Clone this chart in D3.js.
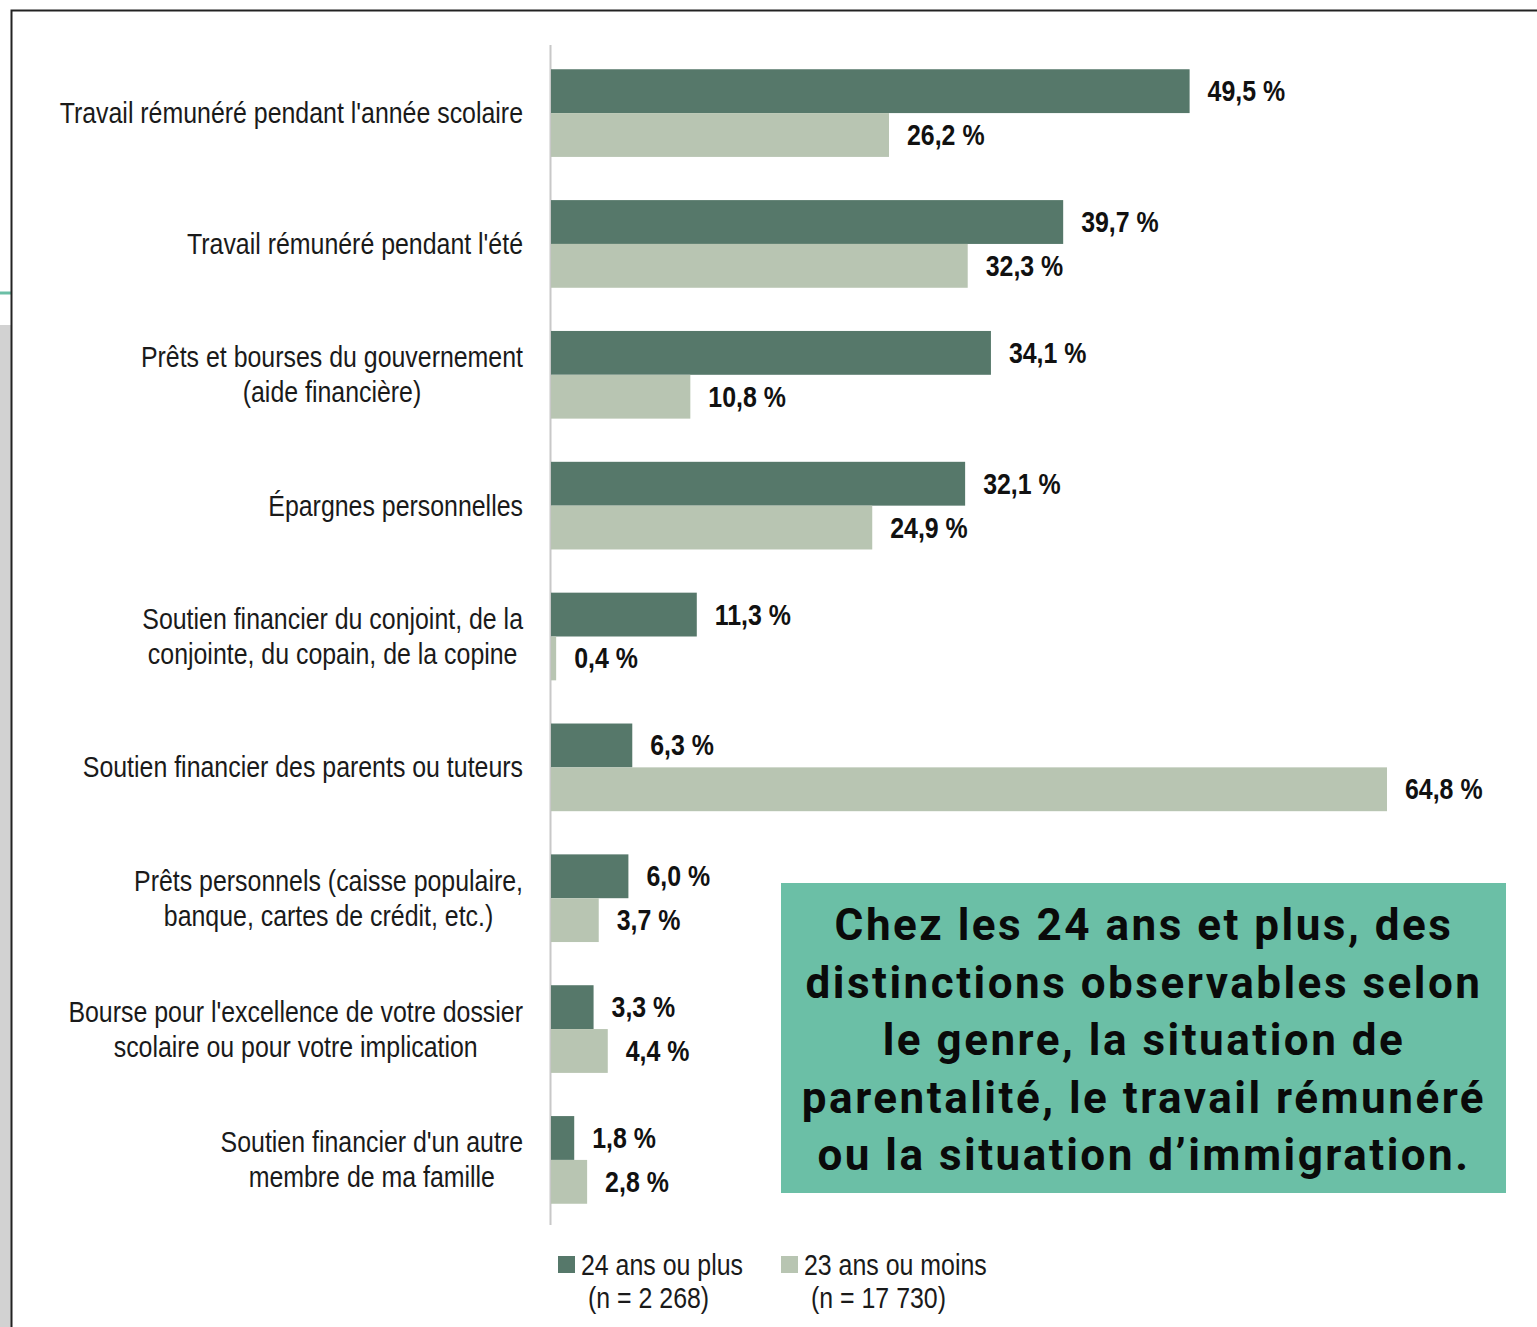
<!DOCTYPE html>
<html>
<head>
<meta charset="utf-8">
<script src="https://d3js.org/d3.v7.min.js"></script>
<style>
  body { margin: 0; background: #fff; }
  text { font-family: "Liberation Sans Narrow", "Arial Narrow", "Liberation Sans", sans-serif; }
</style>
</head>
<body>
<div id="chart"></div>
<script>

// categories (each label split in lines)
var categories = [
  ["Travail rémunéré pendant l'année scolaire"],
  ["Travail rémunéré pendant l'été"],
  ["Prêts et bourses du gouvernement", "(aide financière)"],
  ["Épargnes personnelles"],
  ["Soutien financier du conjoint, de la", "conjointe, du copain, de la copine"],
  ["Soutien financier des parents ou tuteurs"],
  ["Prêts personnels (caisse populaire,", "banque, cartes de crédit, etc.)"],
  ["Bourse pour l'excellence de votre dossier", "scolaire ou pour votre implication"],
  ["Soutien financier d'un autre", "membre de ma famille"]
]
var older = [49.5, 39.7, 34.1, 32.1, 11.3, 6.3, 6.0, 3.3, 1.8]   // 24 ans ou plus
var younger = [26.2, 32.3, 10.8, 24.9, 0.4, 64.8, 3.7, 4.4, 2.8] // 23 ans ou moins
var seriesNames = [["24 ans ou plus", "(n = 2 268)"], ["23 ans ou moins", "(n = 17 730)"]]
var calloutLines = [
  "Chez les 24 ans et plus, des",
  "distinctions observables selon",
  "le genre, la situation de",
  "parentalité, le travail rémunéré",
  "ou la situation d’immigration."
]

var width = 1537
var height = 1327
var colors = ["#56786A", "#B8C5B2"]

// no narrow font installed: squeeze the glyphs like Arial Narrow
function narrow(sel) {
  sel.each(function() {
    var w = this.getComputedTextLength()
    d3.select(this).attr("textLength", w * 0.83).attr("lengthAdjust", "spacingAndGlyphs")
  })
}

var svg = d3.select("#chart")
  .append("svg")
    .attr("width", width)
    .attr("height", height)

// left background strip + frame
svg.append("rect").attr("x", 0).attr("y", 325).attr("width", 11).attr("height", height - 325).attr("fill", "#d2d2d2")
svg.append("line").attr("x1", 0).attr("x2", 11).attr("y1", 293).attr("y2", 293)
  .attr("stroke", "#6BBFA6").attr("stroke-width", 3)
svg.append("path").attr("d", "M11.5," + height + "V10.5H" + width)
  .attr("fill", "none").attr("stroke", "#222").attr("stroke-width", 2)

// scales
var x = d3.scaleLinear().domain([0, 64.8]).range([551, 1387])
var y = d3.scaleBand().domain(d3.range(categories.length)).range([47, 1226]).paddingInner(0.33).paddingOuter(0.17)
var inner = d3.scaleBand().domain([0, 1]).range([0, y.bandwidth()])

// axis line
svg.append("line").attr("x1", 550.5).attr("x2", 550.5).attr("y1", 45).attr("y2", 1225)
  .attr("stroke", "#c8c8c8").attr("stroke-width", 2)

var series = [older, younger]
series.forEach(function(vals, s) {
  var g = svg.append("g")
  g.selectAll("rect")
    .data(vals)
    .enter()
    .append("rect")
      .attr("x", x(0))
      .attr("y", function(d, i) { return y(i) + inner(s) })
      .attr("width", function(d) { return x(d) - x(0) })
      .attr("height", inner.bandwidth())
      .attr("fill", colors[s])
  g.selectAll("text")
    .data(vals)
    .enter()
    .append("text")
      .attr("x", function(d) { return x(d) + 18 })
      .attr("y", function(d, i) { return y(i) + inner(s) + inner.bandwidth() / 2 + 10 })
      .attr("font-size", 30)
      .attr("font-weight", "bold")
      .attr("fill", "#111")
      .text(function(d) { return d3.format(".1f")(d).replace(".", ",") + " %" })
      .call(narrow)
})

// category labels, lines centred with each other, right edge at 523
categories.forEach(function(lines, i) {
  var g = svg.append("g")
  var cy = y(i) + y.bandwidth() / 2
  var texts = g.selectAll("text")
    .data(lines)
    .enter()
    .append("text")
      .attr("font-size", 30)
      .attr("fill", "#1a1a1a")
      .attr("text-anchor", "middle")
      .attr("y", function(d, j) { return cy + 10 + (j - (lines.length - 1) / 2) * 35 })
      .text(function(d) { return d })
      .call(narrow)
  var maxW = d3.max(texts.nodes(), function(n) { return +n.getAttribute("textLength") })
  texts.attr("x", 523 - maxW / 2)
})

// legend
var legendX = [558, 781]
seriesNames.forEach(function(lines, s) {
  var g = svg.append("g").attr("transform", "translate(" + legendX[s] + ",0)")
  g.append("rect").attr("x", 0).attr("y", 1256).attr("width", 17).attr("height", 17).attr("fill", colors[s])
  g.append("text").attr("x", 23).attr("y", 1275).attr("font-size", 30).attr("fill", "#1a1a1a").text(lines[0]).call(narrow)
  g.append("text").attr("x", 30).attr("y", 1308).attr("font-size", 30).attr("fill", "#1a1a1a").text(lines[1]).call(narrow)
})

// callout box
svg.append("rect").attr("x", 781).attr("y", 883).attr("width", 725).attr("height", 310).attr("fill", "#6BBFA6")
svg.append("g").selectAll("text")
  .data(calloutLines)
  .enter()
  .append("text")
    .attr("x", 1144)
    .attr("y", function(d, i) { return 940 + i * 57.5 })
    .attr("text-anchor", "middle")
    .attr("font-size", 44)
    .attr("font-weight", "bold")
    .style("font-family", "Roboto, sans-serif")
    .style("letter-spacing", "2.5px")
    .attr("fill", "#0a0a0a")
    .text(function(d) { return d })

</script>
</body>
</html>
